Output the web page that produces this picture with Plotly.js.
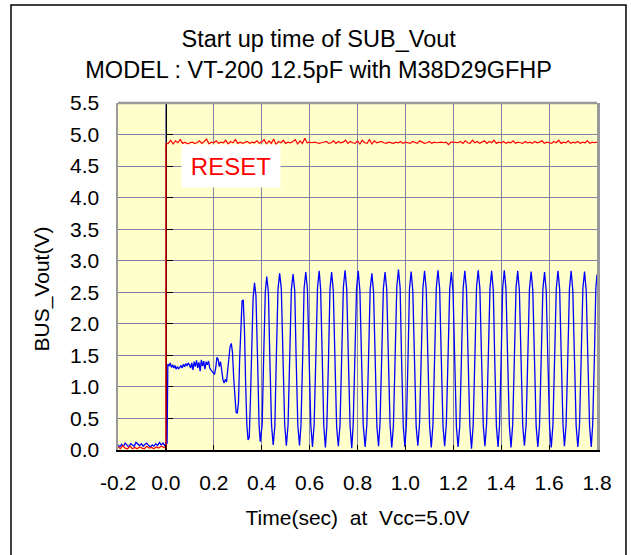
<!DOCTYPE html>
<html>
<head>
<meta charset="utf-8">
<script src="https://cdn.plot.ly/plotly-3.0.1.min.js"></script>
<style>
html,body{margin:0;padding:0;background:#fff;}
#chart{width:631px;height:555px;}
</style>
</head>
<body>
<div id="chart"></div>
<script>
// ---- data ----
const xTickVals = [-0.2, 0.0, 0.2, 0.4, 0.6, 0.8, 1.0, 1.2, 1.4, 1.6, 1.8];
const xTickText = ["-0.2", "0.0", "0.2", "0.4", "0.6", "0.8", "1.0", "1.2", "1.4", "1.6", "1.8"];
const yTickVals = [0.0, 0.5, 1.0, 1.5, 2.0, 2.5, 3.0, 3.5, 4.0, 4.5, 5.0, 5.5];
const yTickText = ["0.0", "0.5", "1.0", "1.5", "2.0", "2.5", "3.0", "3.5", "4.0", "4.5", "5.0", "5.5"];

// RESET signal (red)
const resetT = [
-0.200,-0.190,-0.180,-0.170,-0.160,-0.150,-0.140,-0.130,-0.120,-0.110,-0.100,-0.090,-0.080,-0.070,-0.060,-0.050,-0.040,-0.030,-0.020,-0.010,0.000,0.000,
0.01,0.02,0.03,0.04,0.05,0.06,0.07,0.08,0.09,0.10,
0.11,0.12,0.13,0.14,0.15,0.16,0.17,0.18,0.19,0.20,
0.21,0.22,0.23,0.24,0.25,0.26,0.27,0.28,0.29,0.30,
0.31,0.32,0.33,0.34,0.35,0.36,0.37,0.38,0.39,0.40,
0.41,0.42,0.43,0.44,0.45,0.46,0.47,0.48,0.49,0.50,
0.51,0.52,0.53,0.54,0.55,0.56,0.57,0.58,0.59,0.60,
0.61,0.62,0.63,0.64,0.65,0.66,0.67,0.68,0.69,0.70,
0.71,0.72,0.73,0.74,0.75,0.76,0.77,0.78,0.79,0.80,
0.81,0.82,0.83,0.84,0.85,0.86,0.87,0.88,0.89,0.90,
0.91,0.92,0.93,0.94,0.95,0.96,0.97,0.98,0.99,1.00,
1.01,1.02,1.03,1.04,1.05,1.06,1.07,1.08,1.09,1.10,
1.11,1.12,1.13,1.14,1.15,1.16,1.17,1.18,1.19,1.20,
1.21,1.22,1.23,1.24,1.25,1.26,1.27,1.28,1.29,1.30,
1.31,1.32,1.33,1.34,1.35,1.36,1.37,1.38,1.39,1.40,
1.41,1.42,1.43,1.44,1.45,1.46,1.47,1.48,1.49,1.50,
1.51,1.52,1.53,1.54,1.55,1.56,1.57,1.58,1.59,1.60,
1.61,1.62,1.63,1.64,1.65,1.66,1.67,1.68,1.69,1.70,
1.71,1.72,1.73,1.74,1.75,1.76,1.77,1.78,1.79,1.80];
const resetV = [
0.05,0.02,0.07,0.03,0.02,0.06,0.02,0.04,0.02,0.05,0.03,0.02,0.06,0.03,0.04,0.02,0.05,0.03,0.06,0.04,0.03,4.85,
4.86,4.91,4.85,4.90,4.87,4.92,4.86,4.88,4.85,4.87,
4.88,4.86,4.87,4.90,4.86,4.89,4.93,4.85,4.88,4.87,
4.90,4.86,4.88,4.87,4.91,4.85,4.89,4.87,4.92,4.86,
4.88,4.86,4.87,4.89,4.86,4.88,4.87,4.90,4.86,4.88,
4.92,4.85,4.90,4.86,4.93,4.84,4.89,4.87,4.91,4.86,
4.88,4.87,4.89,4.92,4.85,4.90,4.86,4.94,4.87,4.88,
4.87,4.88,4.87,4.86,4.87,4.88,4.89,4.86,4.87,4.90,
4.86,4.89,4.87,4.88,4.91,4.86,4.89,4.87,4.86,4.90,
4.85,4.91,4.87,4.86,4.92,4.85,4.90,4.87,4.88,4.89,
4.87,4.86,4.88,4.87,4.86,4.88,4.87,4.89,4.86,4.88,
4.87,4.86,4.89,4.87,4.86,4.90,4.88,4.86,4.87,4.89,
4.86,4.88,4.87,4.88,4.88,4.87,4.88,4.84,4.88,4.88,
4.88,4.87,4.89,4.86,4.90,4.87,4.86,4.91,4.87,4.89,
4.86,4.88,4.90,4.86,4.89,4.87,4.91,4.86,4.88,4.87,
4.89,4.86,4.88,4.87,4.90,4.86,4.88,4.87,4.86,4.89,
4.87,4.88,4.86,4.89,4.87,4.88,4.90,4.86,4.88,4.87,
4.86,4.89,4.87,4.91,4.86,4.88,4.87,4.90,4.86,4.88,
4.87,4.89,4.86,4.88,4.87,4.90,4.86,4.88,4.87,4.88];

// SUB_Vout signal (blue)
const subT = [
-0.200,-0.192,-0.185,-0.177,-0.170,-0.162,-0.155,-0.147,-0.140,-0.132,-0.125,-0.117,-0.110,-0.102,-0.095,-0.087,-0.080,-0.072,-0.065,-0.057,-0.050,-0.042,-0.035,-0.027,-0.020,-0.012,-0.005,0.002,0.005,
0.008,0.013,0.018,0.023,0.028,0.033,0.038,0.043,0.048,0.053,0.058,0.063,0.068,0.073,0.078,0.083,0.088,0.093,0.098,0.103,0.108,0.113,0.118,0.123,0.128,0.133,0.138,0.143,0.148,0.153,0.158,0.163,0.168,0.173,0.178,0.183,0.188,0.193,0.198,
0.203,0.208,0.213,0.218,0.223,0.228,0.233,0.238,0.243,0.248,0.253,0.258,0.263,0.268,0.273,0.278,0.283,0.288,0.293,0.298,0.303,0.308,0.313,0.318,0.323,0.328,0.333,0.338,0.343,0.348,0.353,0.358,0.364,
0.370,0.376,0.383,0.389,0.394,0.402,0.408,0.415,0.421,
0.428,0.434,0.441,0.448,0.455,0.461,0.468,0.475,
0.482,0.489,0.496,0.503,0.510,0.517,0.524,0.531,
0.538,0.544,0.551,0.558,0.564,0.571,0.577,0.584,
0.591,0.598,0.605,0.612,0.619,0.626,0.633,0.640,
0.646,0.653,0.659,0.666,0.672,0.679,0.685,0.692,
0.699,0.706,0.713,0.720,0.727,0.734,0.741,0.748,
0.755,0.762,0.769,0.776,0.782,0.789,0.796,0.803,
0.810,0.817,0.824,0.832,0.839,0.846,0.853,0.860,
0.867,0.874,0.881,0.888,0.894,0.901,0.908,0.915,
0.922,0.929,0.936,0.943,0.950,0.957,0.964,0.971,
0.978,0.984,0.991,0.998,1.004,1.011,1.017,1.024,
1.031,1.038,1.045,1.052,1.059,1.066,1.073,1.080,
1.087,1.094,1.101,1.108,1.115,1.122,1.129,1.136,
1.143,1.150,1.157,1.164,1.171,1.178,1.185,1.192,
1.199,1.206,1.213,1.220,1.227,1.234,1.241,1.248,
1.255,1.262,1.269,1.276,1.283,1.290,1.297,1.304,
1.311,1.318,1.325,1.332,1.339,1.346,1.353,1.360,
1.367,1.373,1.380,1.387,1.393,1.400,1.406,1.413,
1.420,1.427,1.434,1.441,1.448,1.455,1.462,1.469,
1.476,1.483,1.490,1.497,1.504,1.511,1.518,1.525,
1.532,1.539,1.546,1.553,1.560,1.567,1.574,1.581,
1.588,1.595,1.602,1.609,1.616,1.623,1.630,1.637,
1.644,1.651,1.658,1.664,1.671,1.678,1.685,1.692,
1.699,1.706,1.713,1.720,1.727,1.734,1.741,1.748,
1.755,1.762,1.769,1.776,1.782,1.789,1.795,1.800];
const subV = [
0.08,0.05,0.09,0.06,0.11,0.07,0.05,0.10,0.08,0.06,0.12,0.09,0.07,0.10,0.06,0.09,0.11,0.07,0.05,0.08,0.06,0.10,0.07,0.12,0.08,0.11,0.07,0.12,0.10,
1.36,1.33,1.38,1.31,1.35,1.30,1.34,1.28,1.32,1.29,1.31,1.34,1.30,1.36,1.32,1.37,1.33,1.38,1.35,1.30,1.38,1.27,1.40,1.32,1.42,1.30,1.39,1.25,1.43,1.33,1.41,1.28,1.40,1.35,1.41,1.30,1.27,1.25,1.22,
1.20,1.30,1.47,1.44,1.32,1.40,1.25,1.12,1.06,1.12,1.08,1.25,1.50,1.64,1.69,1.55,1.15,0.80,0.60,0.58,0.75,1.45,2.05,2.36,2.38,1.90,1.05,0.40,0.16,0.20,0.80,1.80,2.40,
2.65,2.45,1.40,0.40,0.13,0.40,1.45,2.50,2.75,
2.50,1.45,0.40,0.08,0.38,1.45,2.55,2.80,
2.55,1.45,0.40,0.07,0.40,1.48,2.55,2.79,
2.52,1.42,0.38,0.07,0.40,1.45,2.56,2.82,
2.55,1.45,0.40,0.05,0.41,1.46,2.57,2.84,
2.55,1.44,0.40,0.04,0.38,1.45,2.55,2.82,
2.52,1.42,0.36,0.06,0.40,1.47,2.58,2.85,
2.55,1.44,0.38,0.03,0.41,1.46,2.56,2.84,
2.52,1.43,0.39,0.05,0.40,1.44,2.55,2.80,
2.50,1.42,0.37,0.06,0.42,1.46,2.56,2.82,
2.55,1.45,0.40,0.04,0.39,1.45,2.58,2.86,
2.57,1.44,0.38,0.05,0.40,1.46,2.55,2.83,
2.52,1.43,0.37,0.07,0.41,1.45,2.56,2.84,
2.55,1.45,0.39,0.04,0.40,1.47,2.57,2.85,
2.56,1.44,0.38,0.06,0.42,1.46,2.55,2.82,
2.51,1.42,0.36,0.05,0.39,1.45,2.56,2.84,
2.55,1.44,0.38,0.02,0.40,1.46,2.58,2.85,
2.56,1.45,0.40,0.06,0.41,1.45,2.55,2.84,
2.53,1.43,0.37,0.05,0.40,1.46,2.56,2.85,
2.55,1.44,0.39,0.04,0.41,1.45,2.57,2.84,
2.52,1.42,0.38,0.07,0.40,1.46,2.55,2.83,
2.53,1.44,0.37,0.05,0.39,1.44,2.55,2.82,
2.52,1.43,0.38,0.04,0.40,1.46,2.56,2.84,
2.55,1.45,0.40,0.06,0.41,1.45,2.56,2.84,
2.53,1.44,0.38,0.05,0.40,1.46,2.56,2.83,
2.52,1.43,0.38,0.05,0.40,1.45,2.55,2.78];

const FONT = '"Liberation Sans", Arial, sans-serif';

const traces = [
  {x: subT, y: subV, type: 'scatter', mode: 'lines', name: 'SUB_Vout',
   line: {color: '#0000ff', width: 1.3}, hoverinfo: 'x+y'},
  {x: resetT, y: resetV, type: 'scatter', mode: 'lines', name: 'RESET',
   line: {color: '#ff0000', width: 1.2}, hoverinfo: 'x+y'}
];

const layout = {
  width: 631, height: 555,
  margin: {l: 118, r: 34, t: 103, b: 105, pad: 0},
  paper_bgcolor: '#ffffff',
  plot_bgcolor: '#ffffcc',
  showlegend: false,
  font: {family: FONT, color: '#000000', size: 21},
  title: {
    text: 'Start up time of SUB_Vout<br>MODEL : VT-200 12.5pF with M38D29GFHP',
    font: {family: FONT, size: 23.5, color: '#000000'},
    x: 0.505, xref: 'container', xanchor: 'center',
    y: 0.915, yref: 'container', yanchor: 'middle'
  },
  xaxis: {
    range: [-0.2, 1.8],
    tickmode: 'array', tickvals: xTickVals, ticktext: xTickText,
    ticks: 'inside', ticklen: 5, tickwidth: 1, tickcolor: '#000000',
    ticklabelstandoff: 13,
    tickfont: {family: FONT, size: 21, color: '#000000'},
    showgrid: true, gridcolor: '#8181aa', gridwidth: 1,
    zeroline: false,
    showline: true, linecolor: '#000000', linewidth: 1.5,
    title: {text: 'Time(sec)\u00a0\u00a0at\u00a0\u00a0Vcc=5.0V', font: {family: FONT, size: 21, color: '#000000'}, standoff: 17},
    fixedrange: true
  },
  yaxis: {
    range: [0, 5.5],
    tickmode: 'array', tickvals: yTickVals, ticktext: yTickText,
    ticks: '',
    ticklabelstandoff: 12,
    tickfont: {family: FONT, size: 21, color: '#000000'},
    showgrid: true, gridcolor: '#8181aa', gridwidth: 1,
    zeroline: false,
    showline: true, mirror: true, linecolor: '#9a9a9a', linewidth: 2.5,
    fixedrange: true
  },
  yaxis2: {
    range: [0, 5.5], overlaying: 'y', anchor: 'free', position: 0.1, side: 'right',
    tickmode: 'array', tickvals: yTickVals,
    ticks: 'outside', ticklen: 6, tickwidth: 1, tickcolor: '#000000',
    showticklabels: false, showgrid: false, zeroline: false,
    showline: true, linecolor: '#000000', linewidth: 1.2,
    layer: 'below traces', fixedrange: true
  },
  shapes: [
    {type: 'line', xref: 'paper', yref: 'paper', x0: 0, x1: 1, y0: 1, y1: 1,
     line: {color: '#9a9a9a', width: 2.5}},
    {type: 'rect', xref: 'paper', yref: 'paper', x0: -0.2234, x1: 1.0605, y0: -0.33, y1: 1.2824,
     line: {color: '#000000', width: 1.5}, fillcolor: 'rgba(0,0,0,0)'}
  ],
  annotations: [
    {x: 0.27, y: 4.5, xref: 'x', yref: 'y', text: 'RESET', showarrow: false,
     font: {family: FONT, size: 24, color: '#ff0000'},
     bgcolor: '#ffffff', width: 96, height: 40, borderpad: 1, xanchor: 'center', yanchor: 'middle'},
    {x: -0.159, y: 0.465, xref: 'paper', yref: 'paper', text: 'BUS_Vout(V)', showarrow: false,
     textangle: -90, font: {family: FONT, size: 21, color: '#000000'}, xanchor: 'center', yanchor: 'middle'}
  ]
};

Plotly.newPlot('chart', traces.concat([{x: [], y: [], yaxis: 'y2', type: 'scatter', mode: 'lines', showlegend: false, hoverinfo: 'skip'}]), layout, {displayModeBar: false, staticPlot: true});
</script>
</body>
</html>
